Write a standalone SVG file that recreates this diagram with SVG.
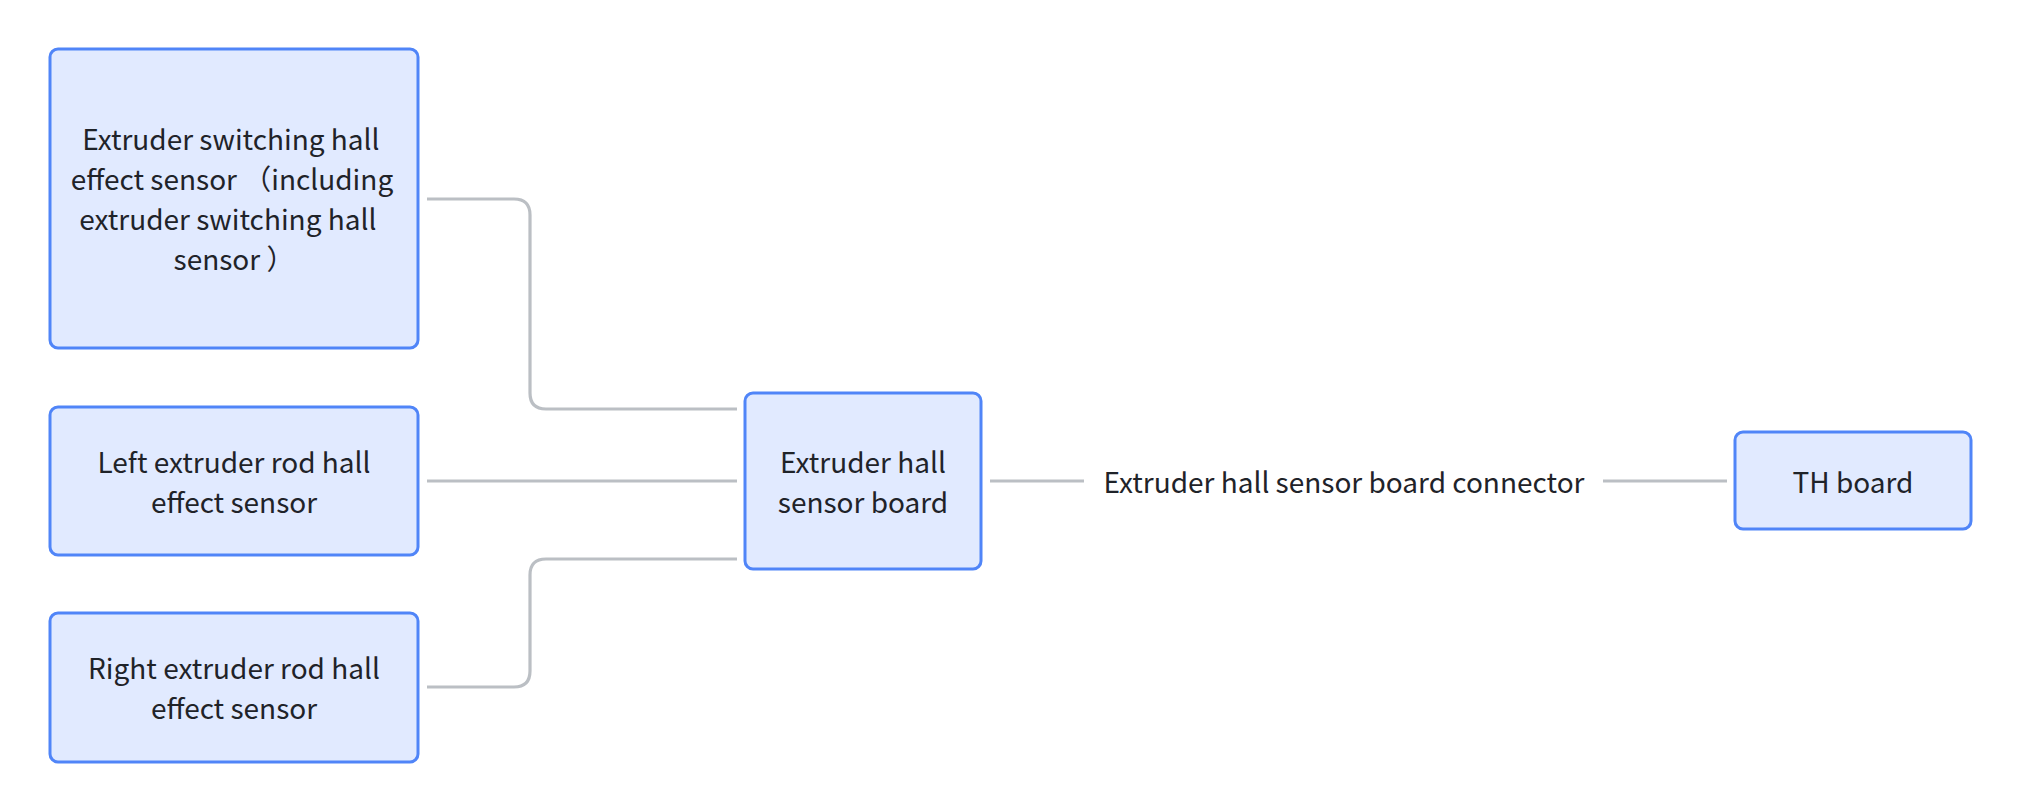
<svg xmlns="http://www.w3.org/2000/svg" width="2022" height="812" viewBox="0 0 2022 812">
<style>
.node rect{fill:#e1eaff;stroke:#5085f8;stroke-width:3}
.conn path{fill:none;stroke:#bbbfc4;stroke-width:3.2}
text{font-family:"Noto Sans CJK SC","Noto Sans",sans-serif;font-size:28px;fill:#1f2329;text-anchor:middle}
</style>
<rect width="2022" height="812" fill="#ffffff"/>
<g id="connectors" class="conn">
<path d="M427 199 H514 Q530 199 530 215 V393 Q530 409 546 409 H737"/>
<path d="M427 481 H737"/>
<path d="M427 687 H514 Q530 687 530 671 V575 Q530 559 546 559 H737"/>
<path d="M990 481 H1084"/>
<path d="M1603 481 H1727"/>
<text x="1344" y="493">Extruder hall sensor board connector</text>
</g>
<g id="switching-sensor" class="node">
<rect x="50" y="49" width="368" height="299" rx="8"/>
<text xml:space="preserve"><tspan x="234" y="150">Extruder switching hall </tspan><tspan x="232" y="190">effect sensor （including</tspan><tspan x="231" y="230">extruder switching hall </tspan><tspan x="234" y="270">sensor ）</tspan></text>
</g>
<g id="left-sensor" class="node">
<rect x="50" y="407" width="368" height="148" rx="8"/>
<text><tspan x="234" y="473">Left extruder rod hall</tspan><tspan x="234" y="513">effect sensor</tspan></text>
</g>
<g id="right-sensor" class="node">
<rect x="50" y="613" width="368" height="149" rx="8"/>
<text><tspan x="234" y="679">Right extruder rod hall</tspan><tspan x="234" y="719">effect sensor</tspan></text>
</g>
<g id="hub" class="node">
<rect x="745" y="393" width="236" height="176" rx="8"/>
<text><tspan x="863" y="473">Extruder hall</tspan><tspan x="863" y="513">sensor board</tspan></text>
</g>
<g id="th-board" class="node">
<rect x="1735" y="432" width="236" height="97" rx="8"/>
<text x="1853" y="493">TH board</text>
</g>
</svg>
